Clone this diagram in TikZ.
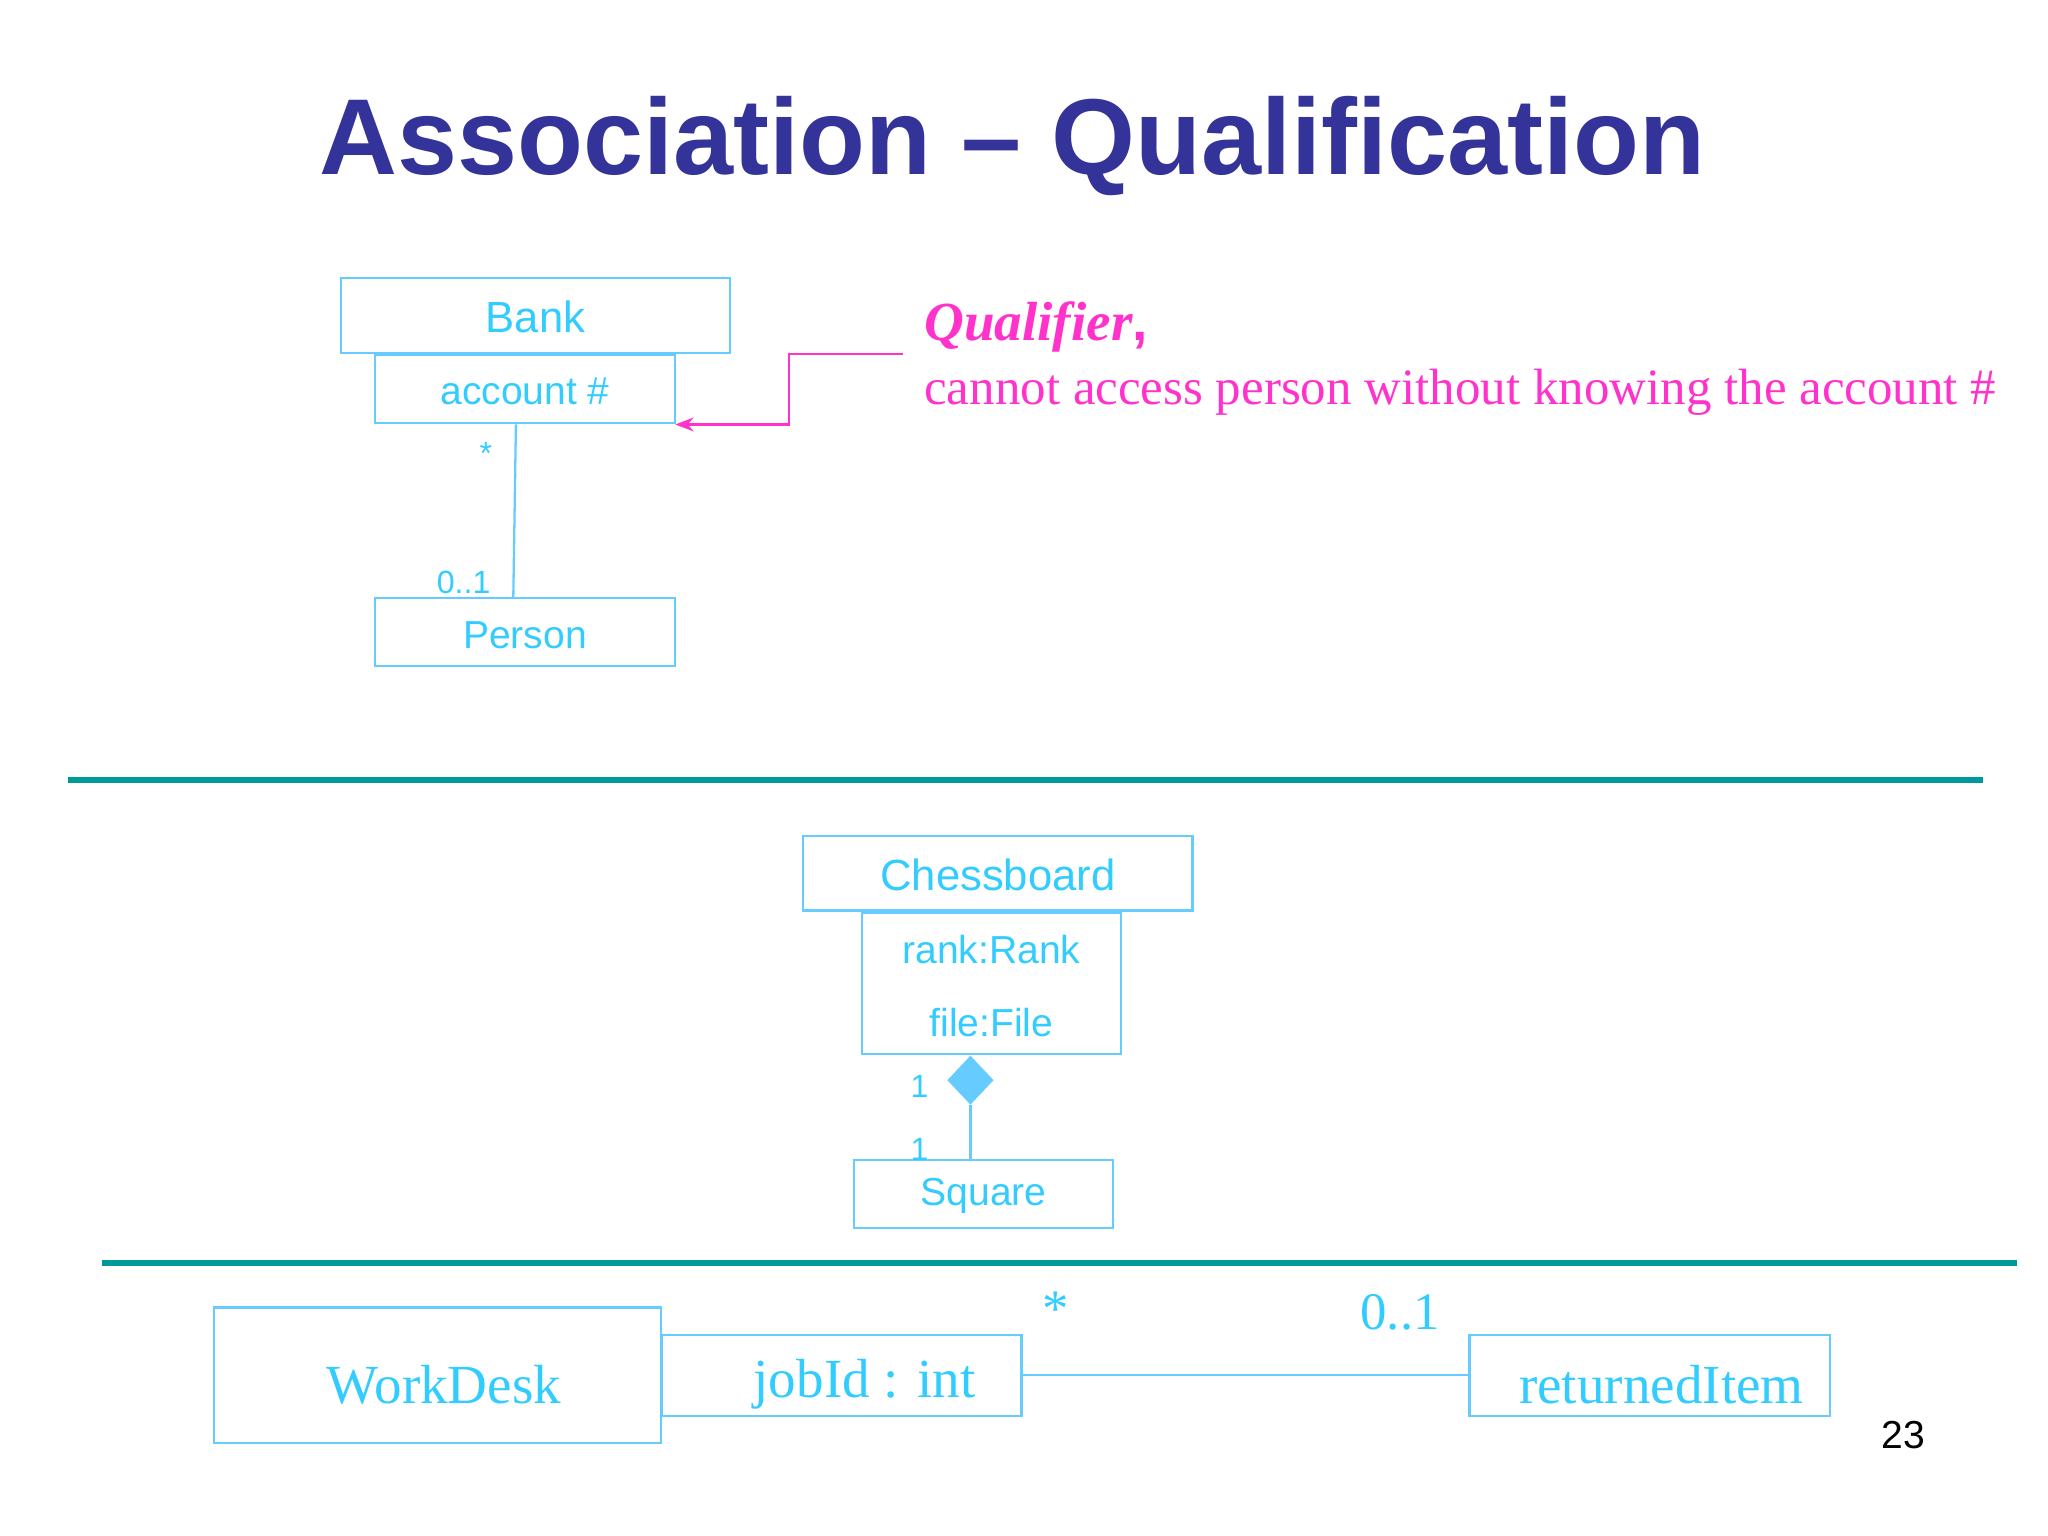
\documentclass[tikz,border=0pt]{standalone}
\usepackage{fontspec}
\setmainfont{Liberation Sans}
\newfontfamily\serifff{Liberation Serif}
\usetikzlibrary{shapes.geometric,arrows.meta}
\definecolor{ttl}{RGB}{51,51,153}
\definecolor{cy}{RGB}{51,204,255}
\definecolor{cyb}{RGB}{102,204,255}
\definecolor{mg}{RGB}{255,51,204}
\definecolor{tl}{RGB}{0,153,153}
\tikzset{
 bx/.style={draw=cyb,line width=0.5pt},
 lab/.style={text=cy,inner sep=0pt,font=\fontsize{7}{8}\selectfont},
 slab/.style={text=cy,inner sep=0pt,font=\serifff\fontsize{11.5}{13}\selectfont},
 cline/.style={draw=cyb,line width=0.5pt},
 div/.style={draw=tl,line width=1.4pt},
}
\begin{document}
\begin{tikzpicture}[x=0.01cm,y=-0.01cm]
\useasboundingbox (0,0) rectangle (1568,1176);
\node[text=ttl,font=\bfseries\fontsize{23.5}{28}\selectfont] (title) at (775,112) {Association – Qualification};
% Bank
\draw[bx] (261,213) rectangle (559,270);
\node[text=cy,font=\fontsize{9.5}{11}\selectfont] (banktxt) at (410,243) {Bank};
\draw[bx] (287,272) rectangle (517,324);
\node[text=cy,font=\fontsize{8.5}{10}\selectfont] (acc) at (402,300) {account \#};
\coordinate (accB) at (395,325);
\draw[bx] (287,458) rectangle (517,510);
\node[text=cy,font=\fontsize{8.5}{10}\selectfont] (person) at (402,486) {Person};
\coordinate (perT) at (393,457);
\draw[cline] (accB) -- (perT);
\node[lab] (st1) at (372,347) {*};
\node[lab] (m1) at (355,446) {0..1};
% qualifier annotation
\coordinate (q1) at (691,271);
\coordinate (q2) at (517,325);
\draw[mg,line width=0.6pt,-{Stealth[length=4pt,width=3pt]}] (q1) -- (604,271) -- (604,325) -- (q2);
\node[anchor=west,text=mg,inner sep=0pt,font=\serifff\bfseries\itshape\fontsize{12}{14}\selectfont] (qual) at (707,250) {Qualifier\normalfont\bfseries,};
\node[anchor=west,text=mg,inner sep=0pt,font=\serifff\fontsize{11.1}{13}\selectfont] (cann) at (707,300) {cannot access person without knowing the account \#};
% divider
\coordinate (d1a) at (52,597); \coordinate (d1b) at (1518,597);
\draw[div] (d1a) -- (d1b);
% chessboard
\draw[bx] (615,640) rectangle (913,697);
\node[text=cy,font=\fontsize{9.5}{11}\selectfont] (chess) at (764,670) {Chessboard};
\draw[bx] (660,699) rectangle (858,807);
\node[text=cy,font=\fontsize{8.5}{10}\selectfont] (rank) at (759,727) {rank:Rank};
\node[text=cy,font=\fontsize{8.5}{10}\selectfont] (file) at (759,783) {file:File};
\node[diamond,fill=cyb,draw=cyb,inner sep=0pt,minimum width=0.34cm,minimum height=0.36cm] (dia) at (743,827) {};
\draw[bx] (654,888) rectangle (852,940);
\node[text=cy,font=\fontsize{8.5}{10}\selectfont] (square) at (753,916) {Square};
\coordinate (sqT) at (743,888);
\draw[cline] (dia.south) -- (sqT);
\node[lab] (one1) at (704,832) {1};
\node[lab] (one2) at (704,880) {1};
% divider 2
\coordinate (d2a) at (78,967); \coordinate (d2b) at (1544,967);
\draw[div] (d2a) -- (d2b);
% workdesk
\draw[bx] (164,1001) rectangle (506,1105);
\node[slab,font=\serifff\fontsize{12}{14}\selectfont] (wd) at (340,1060) {WorkDesk};
\draw[bx] (507,1022) rectangle (782,1084);
\node[slab,font=\serifff\fontsize{12}{14}\selectfont] (job) at (662,1060) {jobId : int};
\coordinate (jR) at (782,1053); \coordinate (rL) at (1125,1053);
\draw[cline] (jR) -- (rL);
\draw[bx] (1125,1022) rectangle (1401,1084);
\node[slab,font=\serifff\fontsize{12}{14}\selectfont] (ret) at (1272,1060) {returnedItem};
\node[slab] (st2) at (808,1002) {*};
\node[slab] (m2) at (1072,1005) {0..1};
\node[font=\fontsize{8.5}{10}\selectfont] (pg) at (1457,1099) {23};
\end{tikzpicture}
\end{document}
